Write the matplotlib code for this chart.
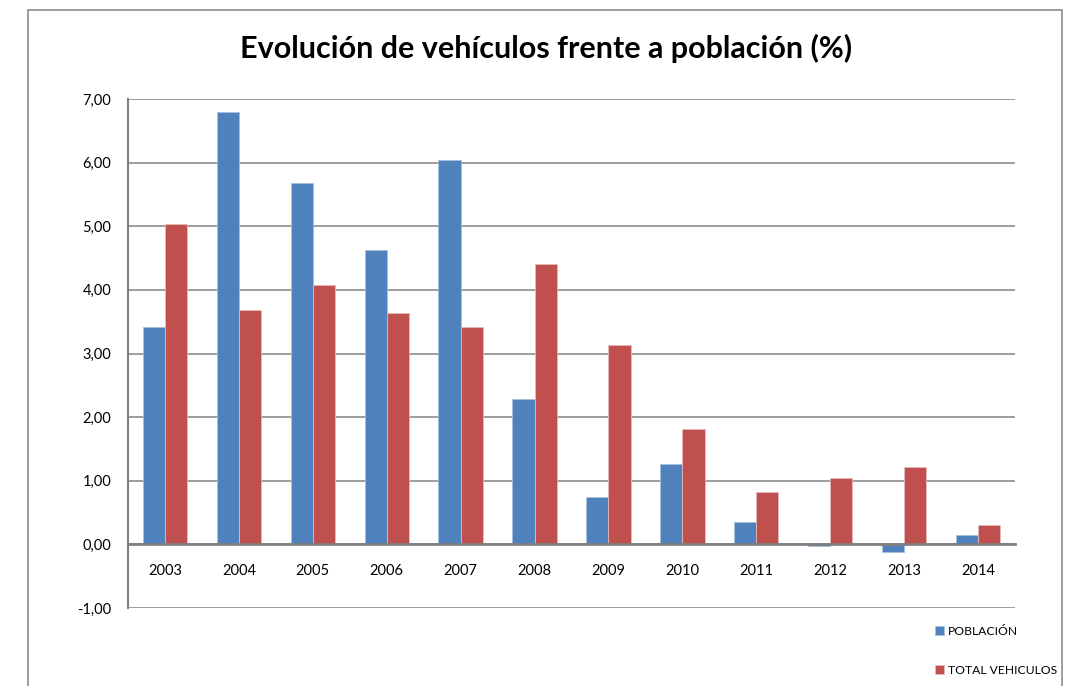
"""
Evolución de vehículos frente a población, barras agrupadas estilo Excel.
"""

import matplotlib.pyplot as plt
from matplotlib.patches import Rectangle
import numpy as np

years = ["2003", "2004", "2005", "2006", "2007", "2008",
         "2009", "2010", "2011", "2012", "2013", "2014"]
poblacion = [3.41, 6.80, 5.68, 4.63, 6.04, 2.28, 0.74, 1.26, 0.35, -0.03, -0.12, 0.15]
vehiculos = [5.04, 3.69, 4.08, 3.63, 3.42, 4.40, 3.14, 1.82, 0.83, 1.05, 1.22, 0.30]
yticks = [-1, 0, 1, 2, 3, 4, 5, 6, 7]

blue = "#4F81BD"
red = "#C0504D"
grid_gray = "#8C8C8C"

plt.rcParams['font.family'] = ['Lato', 'DejaVu Sans']

fig = plt.figure(figsize=(10.68, 6.86), dpi=100)

# outer chart frame (bottom edge falls off the picture)
fig.add_artist(Rectangle((28 / 1068, -0.05), (1062 - 28) / 1068, 1.05 - 10 / 686,
                         transform=fig.transFigure, fill=False,
                         edgecolor="#8C8C8C", linewidth=1.2))

ax = fig.add_axes([128 / 1068, 1 - 608 / 686, (1015 - 128) / 1068, (608 - 99) / 686])

x = np.arange(len(years))
w = 0.3
ax.bar(x - w / 2, poblacion, w, color=blue, edgecolor="#A7BFDE", linewidth=0.6,
       label="POBLACIÓN", zorder=3)
ax.bar(x + w / 2, vehiculos, w, color=red, edgecolor="#E6B9B8", linewidth=0.6,
       label="TOTAL VEHICULOS", zorder=3)

ax.set_xlim(-0.5, len(years) - 0.5)
ax.set_ylim(-1, 7)
ax.set_yticks(yticks)
ax.set_yticklabels([f"{v:.2f}".replace(".", ",") for v in yticks])
ax.yaxis.grid(True, color=grid_gray, linewidth=1.2, zorder=0)
ax.set_axisbelow(True)

ax.set_xticks(x)
ax.set_xticklabels(years)
ax.spines['bottom'].set_position(('data', 0))
ax.spines['bottom'].set_color("#7F7F7F")
ax.spines['bottom'].set_linewidth(2)
ax.spines['bottom'].set_zorder(4)
ax.spines['left'].set_color("#7F7F7F")
ax.spines['left'].set_linewidth(1.5)
ax.spines['top'].set_visible(False)
ax.spines['right'].set_visible(False)
ax.tick_params(axis='x', length=0, pad=14, labelsize=10.5)
ax.tick_params(axis='y', length=0, pad=12, labelsize=10.5)

fig.text(546 / 1068, 1 - 48 / 686, "Evolución de vehículos frente a población (%)",
         ha="center", va="center", fontsize=22, fontweight="bold")

fig.legend(loc="upper left", bbox_to_anchor=(935 / 1068, 1 - 626 / 686),
           frameon=False, fontsize=8.7, handlelength=0.75, handleheight=0.75,
           handletextpad=0.35, labelspacing=2.3, borderpad=0, borderaxespad=0)

fig.savefig("out.png", dpi=100)
